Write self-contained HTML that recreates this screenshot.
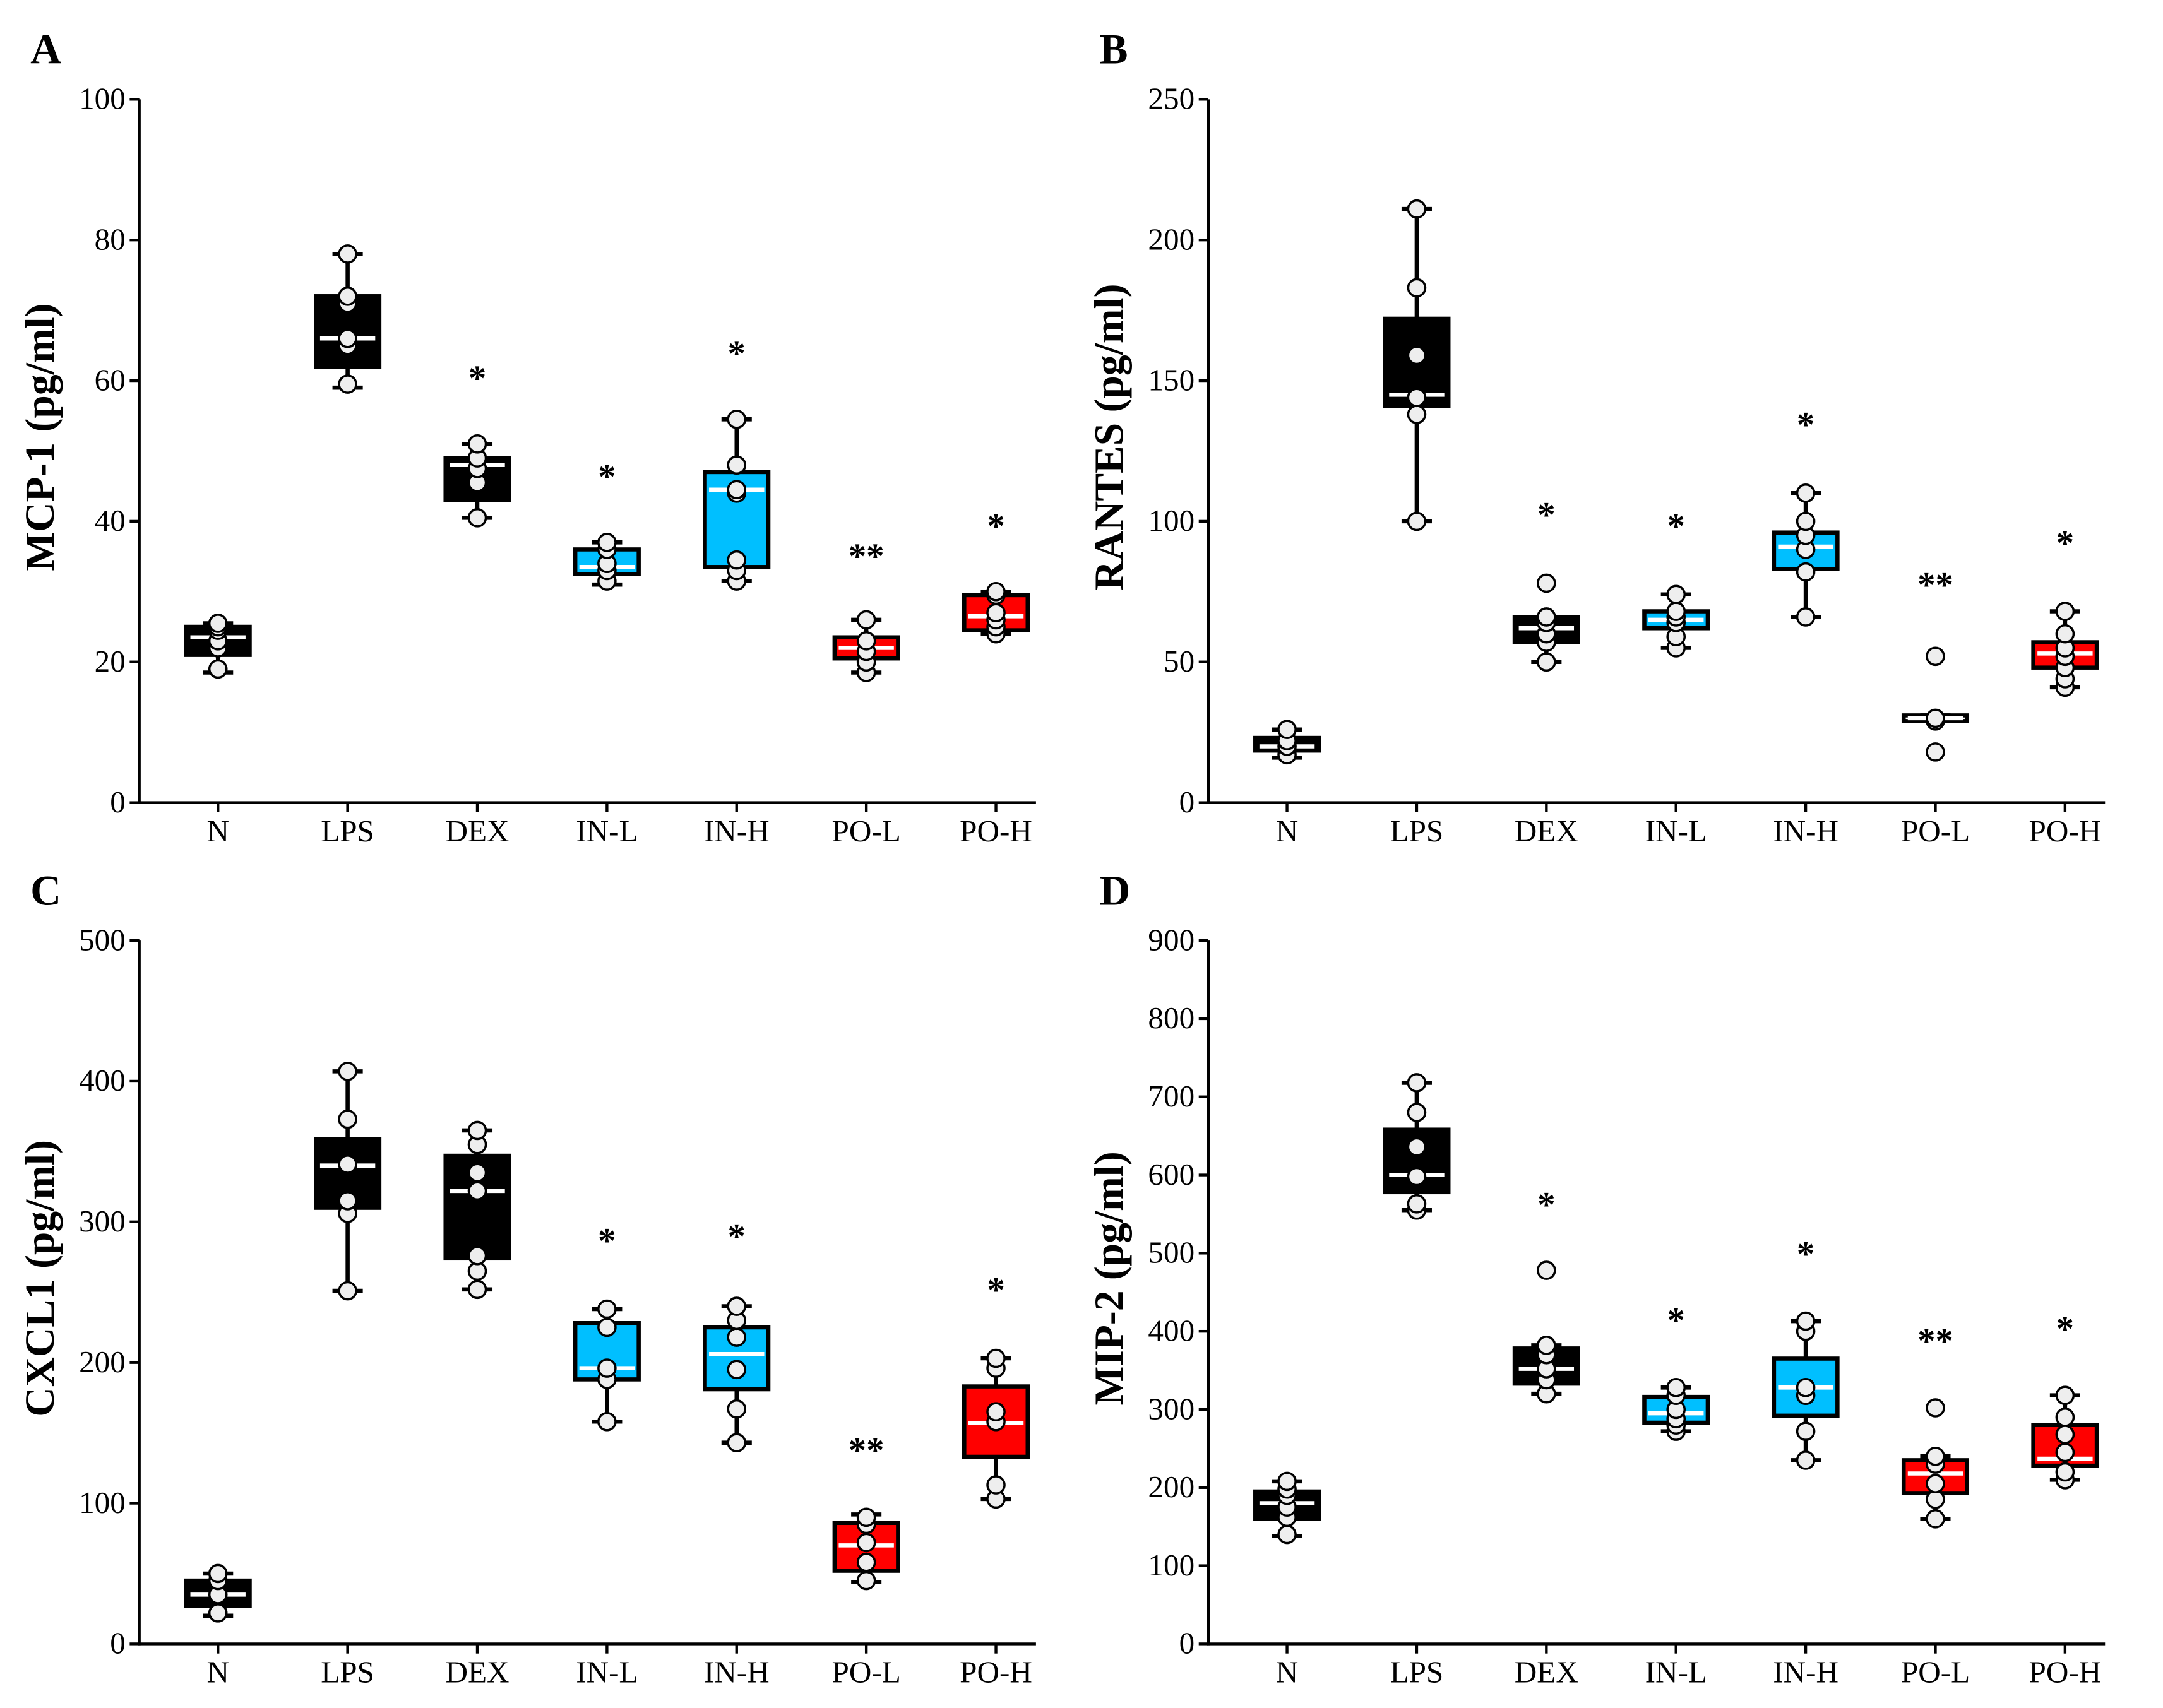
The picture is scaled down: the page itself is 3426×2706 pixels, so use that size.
<!DOCTYPE html>
<html><head><meta charset="utf-8"><style>
html,body{margin:0;padding:0;background:#fff}
svg{display:block}
text{font-family:"Liberation Serif",serif}
</style></head><body>
<svg id="fig" width="3426" height="2706" viewBox="0 0 1568 1238.5" preserveAspectRatio="none" xmlns="http://www.w3.org/2000/svg"></svg>
<script>
const categories = ["N","LPS","DEX","IN-L","IN-H","PO-L","PO-H"];
const colorsA = ["#000","#000","#000","#00bfff","#00bfff","#f00","#f00"];
const colorsB = ["#000","#000","#000","#00bfff","#00bfff","#fff","#f00"];
// [lo, q1, median, q3, hi]
const statsA = [[18.5,21,23.5,25,25.5],[59,62,66,72,78],[40.5,43,48,49,51],[31,32.5,33.5,36,37],[31.5,33.5,44.5,47,54.5],[18.5,20.5,22,23.5,26],[24,24.5,26.5,29.5,30]];
const pointsA = [[19,22,23,24.5,25,25.5],[59.5,65,66,71,72,78],[40.5,45.5,47.5,49,51],[31.5,33,34,36,37],[31.5,33,34.5,44,44.5,48,54.5],[18.5,20,21.5,23,26],[24,25,26,27,29.5,30]];
const starsA = ["","","*","*","*","**","*"];
const starYA = [0,0,61,47,64.5,35.7,40];
const statsB = [[16,18.5,20,23,26],[100,141,145,172,211],[50,57,62,66,66],[55,62,65,68,74],[66,83,91,96,110],[29,29,30,31,31],[41,48,53,57,68]];
const pointsB = [[17,20,22,26],[100,138,144,159,183,211],[50,57,60,64,66,78],[55,59,64,66,68,74],[66,82,90,95,100,110],[18,29,30,52],[41,44,48,52,55,60,68]];
const starsB = ["","","*","*","*","**","*"];
const starYB = [0,0,104,100,136,79,94];
const statsC = [[20,27,35,45,50],[251,310,340,359,407],[252,274,322,347,365],[158,188,196,228,238],[143,181,206,225,240],[44,52,70,86,92],[103,133,157,183,203]];
const pointsC = [[22,35,45,50],[251,306,315,341,373,407],[252,265,276,322,335,355,365],[158,188,196,225,238],[143,167,195,218,230,240],[45,58,72,85,90],[103,113,158,165,196,203]];
const starsC = ["","","","*","*","**","*"];
const starYC = [0,0,0,290,293,141,255];
const statsD = [[138,160,180,195,208],[555,578,600,658,718],[320,333,352,378,382],[272,283,295,316,328],[235,292,328,365,413],[160,193,218,235,240],[210,228,237,280,318]];
const pointsD = [[140,162,175,190,198,208],[555,563,598,636,680,718],[320,338,352,370,382,478],[272,280,288,300,318,328],[235,272,318,328,400,413],[160,185,205,230,240,302],[210,220,245,268,290,318]];
const starsD = ["","","*","*","*","**","*"];
const starYD = [0,0,568,420,505,394,409];
const ticksA=[0,20,40,60,80,100], ticksB=[0,50,100,150,200,250], ticksC=[0,100,200,300,400,500], ticksD=[0,100,200,300,400,500,600,700,800,900];

const NS="http://www.w3.org/2000/svg", svg=document.getElementById('fig');
function mk(tag,attrs,parent,txt){const e=document.createElementNS(NS,tag);for(const k in attrs)e.setAttribute(k,attrs[k]);if(txt!==undefined)e.textContent=txt;(parent||svg).appendChild(e);return e;}

function panel(id,letter,ax,y0,y1,ymax,ticks,title,stats,points,stars,starY,colors){
  const g=mk('g',{});
  
  
  const step=94, x0=ax+57, xEnd=ax+650;
  const X=i=>x0+i*step, Y=v=>y1-(v/ymax)*(y1-y0);
  const lt=mk('text',{x:ax-79,y:y0-26,'font-size':31,'font-weight':'bold'},g,letter);
  
  
  const yax=mk('line',{x1:ax,y1:y0,x2:ax,y2:y1+1,stroke:'#000','stroke-width':2},g);
  
  
  const xax=mk('line',{x1:ax-1,y1:y1,x2:xEnd,y2:y1,stroke:'#000','stroke-width':2},g);
  
  
  ticks.forEach(t=>{
    mk('line',{x1:ax-7,y1:Y(t),x2:ax,y2:Y(t),stroke:'#000','stroke-width':2},g);
    const tl=mk('text',{x:ax-10,y:Y(t)+7,'font-size':22.5,'text-anchor':'end'},g,String(t));
    
    
  });
  const tt=mk('text',{x:0,y:0,'font-size':30,'font-weight':'bold','text-anchor':'middle',transform:`translate(${ax-62},${(y0+y1)/2-10}) rotate(-90)`},g,title);
  
  
  categories.forEach((c,i)=>{
    const x=X(i), s=stats[i], hw=23;
    mk('line',{x1:x,y1:y1,x2:x,y2:y1+7,stroke:'#000','stroke-width':2},g);
    const cl=mk('text',{x:x,y:y1+28,'font-size':22.5,'text-anchor':'middle'},g,c);
    
    
    const bg=mk('g',{},g);
    
    
    mk('line',{x1:x,y1:Y(s[0]),x2:x,y2:Y(s[4]),stroke:'#000','stroke-width':3},bg);
    mk('line',{x1:x-11,y1:Y(s[0]),x2:x+11,y2:Y(s[0]),stroke:'#000','stroke-width':3},bg);
    mk('line',{x1:x-11,y1:Y(s[4]),x2:x+11,y2:Y(s[4]),stroke:'#000','stroke-width':3},bg);
    mk('rect',{x:x-hw,y:Y(s[3]),width:2*hw,height:Math.max(Y(s[1])-Y(s[3]),1),fill:colors[i],stroke:'#000','stroke-width':3},bg);
    mk('line',{x1:x-hw+3,y1:Y(s[2]),x2:x+hw-3,y2:Y(s[2]),stroke:'#fff','stroke-width':3},bg);
    points[i].forEach(v=>{
      const p=mk('circle',{cx:x,cy:Y(v),r:6.2,fill:'#eee',stroke:'#000','stroke-width':1.6},bg);
      
      
    });
    if(stars[i]){
      const st=mk('text',{x:x,y:Y(starY[i])+12,'font-size':26,'font-weight':'bold','text-anchor':'middle'},g,stars[i]);
      
      
    }
  });
}
panel('a','A',101,72,582,100,ticksA,'MCP-1 (pg/ml)',statsA,pointsA,starsA,starYA,colorsA);
panel('b','B',876,72,582,250,ticksB,'RANTES (pg/ml)',statsB,pointsB,starsB,starYB,colorsB);
panel('c','C',101,682,1192,500,ticksC,'CXCL1 (pg/ml)',statsC,pointsC,starsC,starYC,colorsA);
panel('d','D',876,682,1192,900,ticksD,'MIP-2 (pg/ml)',statsD,pointsD,starsD,starYD,colorsA);
</script>
</body></html>
